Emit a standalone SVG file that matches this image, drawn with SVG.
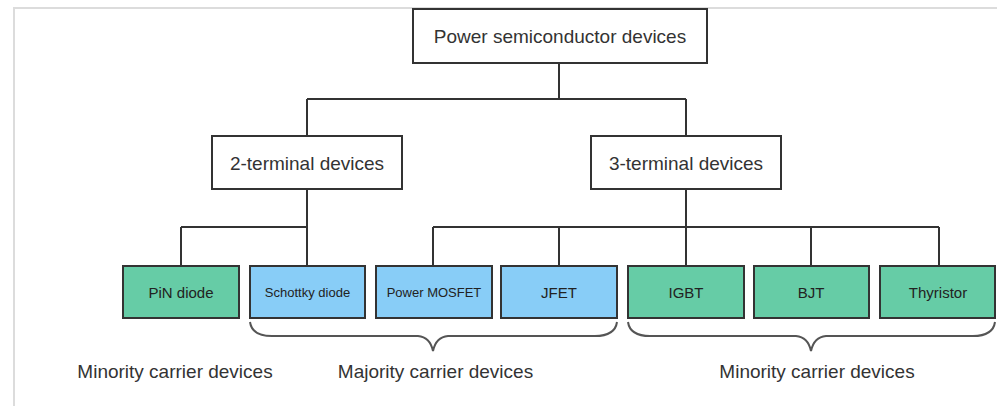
<svg xmlns="http://www.w3.org/2000/svg" width="997" height="406" viewBox="0 0 997 406">
<style>
  .frame { fill: none; stroke: #dcdcdc; stroke-width: 2; }
  .box { fill: #ffffff; stroke: #333333; stroke-width: 2; }
  .min { fill: #66cca6; stroke: #333333; stroke-width: 2; }
  .maj { fill: #88cdf7; stroke: #333333; stroke-width: 2; }
  .big { font-family: "Liberation Sans", Arial, sans-serif; font-size: 19px; fill: #333333; text-anchor: middle; }
  .lbl { font-family: "Liberation Sans", Arial, sans-serif; font-size: 15px; fill: #222222; text-anchor: middle; }
  .sm { font-family: "Liberation Sans", Arial, sans-serif; font-size: 13px; fill: #222222; text-anchor: middle; }
  .conn { fill: none; stroke: #333333; stroke-width: 2; }
  .brace { fill: none; stroke: #555555; stroke-width: 2; }
</style>
<rect x="0" y="0" width="997" height="406" fill="#ffffff"/>
<path class="frame" d="M14,406 L14,8 L997,8"/>

<g id="connectors">
  <path class="conn" d="M559,63 L559,99 M307,99 L686,99 M307,99 L307,136 M686,99 L686,136"/>
  <path class="conn" d="M307,189 L307,266 M181,227 L307,227 M181,227 L181,266"/>
  <path class="conn" d="M686,189 L686,266 M433,227 L939,227 M433,227 L433,266 M559,227 L559,266 M811,227 L811,266 M939,227 L939,266"/>
</g>

<g id="root">
  <rect class="box" x="413" y="9" width="294" height="54"/>
  <text class="big" x="560" y="43">Power semiconductor devices</text>
</g>
<g id="two-terminal">
  <rect class="box" x="212" y="136" width="190" height="53"/>
  <text class="big" x="307" y="169.5">2-terminal devices</text>
</g>
<g id="three-terminal">
  <rect class="box" x="591" y="136" width="190" height="53"/>
  <text class="big" x="686" y="169.5">3-terminal devices</text>
</g>

<g id="pin-diode">
  <rect class="min" x="123" y="266" width="116" height="52"/>
  <text class="lbl" x="181" y="298">PiN diode</text>
</g>
<g id="schottky-diode">
  <rect class="maj" x="250" y="266" width="115" height="52"/>
  <text class="sm" x="307.5" y="297">Schottky diode</text>
</g>
<g id="power-mosfet">
  <rect class="maj" x="376" y="266" width="116" height="52"/>
  <text class="sm" x="434" y="297">Power MOSFET</text>
</g>
<g id="jfet">
  <rect class="maj" x="501" y="266" width="116" height="52"/>
  <text class="lbl" x="559" y="298">JFET</text>
</g>
<g id="igbt">
  <rect class="min" x="628" y="266" width="116" height="52"/>
  <text class="lbl" x="686" y="298">IGBT</text>
</g>
<g id="bjt">
  <rect class="min" x="754" y="266" width="115" height="52"/>
  <text class="lbl" x="811" y="298">BJT</text>
</g>
<g id="thyristor">
  <rect class="min" x="880" y="266" width="115" height="52"/>
  <text class="lbl" x="938" y="298">Thyristor</text>
</g>

<g id="majority-brace">
  <path class="brace" d="M250,322 Q252,336 272,336 L418,336 Q430,337 433,351 Q436,337 448,336 L595,336 Q615,336 617,322"/>
  <text class="big" x="435.5" y="378">Majority carrier devices</text>
</g>
<g id="minority-brace">
  <path class="brace" d="M628,322 Q630,336 650,336 L796,336 Q808,337 811,351 Q814,337 826,336 L973,336 Q993,336 995,322"/>
  <text class="big" x="817" y="378">Minority carrier devices</text>
</g>
<g id="minority-left">
  <text class="big" x="175" y="378">Minority carrier devices</text>
</g>
</svg>
